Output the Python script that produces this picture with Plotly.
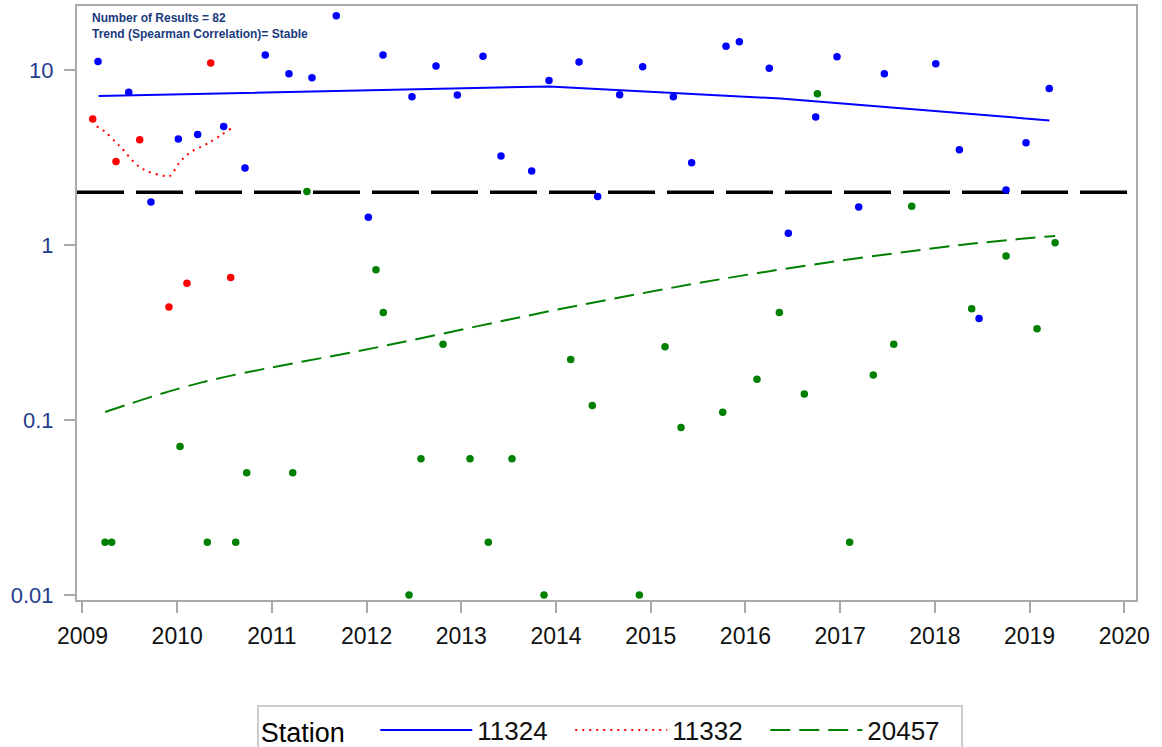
import plotly.graph_objects as go

# ---- data (decimal years, values) ----
blue_x = [2009.164, 2009.488, 2009.723, 2010.012, 2010.216, 2010.491, 2010.716, 2010.930,
          2011.180, 2011.423, 2011.680, 2012.018, 2012.173, 2012.479, 2012.733, 2012.958,
          2013.229, 2013.419, 2013.743, 2013.926, 2014.243, 2014.440, 2014.672, 2014.915,
          2015.239, 2015.432, 2015.795, 2015.936, 2016.252, 2016.453, 2016.742, 2016.967,
          2017.196, 2017.467, 2018.010, 2018.259, 2018.467, 2018.752, 2018.963, 2019.208]
blue_y = [11.2, 7.45, 1.76, 4.03, 4.28, 4.76, 2.75, 12.2,
          9.52, 9.03, 20.4, 1.44, 12.2, 7.03, 10.54, 7.19,
          12.0, 3.22, 2.65, 8.72, 11.1, 1.89, 7.22, 10.44,
          7.03, 2.95, 13.65, 14.5, 10.22, 1.167, 5.38, 11.9,
          1.65, 9.52, 10.87, 3.50, 0.38, 2.065, 3.84, 7.85]

red_x = [2009.108, 2009.354, 2009.604, 2009.913, 2010.103, 2010.354, 2010.565]
red_y = [5.24, 3.0, 3.99, 0.442, 0.604, 10.97, 0.653]

green_x = [2009.238, 2009.308, 2010.030, 2010.318, 2010.618, 2010.734, 2011.220, 2011.370,
           2012.099, 2012.176, 2012.448, 2012.574, 2012.807, 2013.092, 2013.285, 2013.535,
           2013.873, 2014.155, 2014.383, 2014.880, 2015.151, 2015.320, 2015.760, 2016.122,
           2016.358, 2016.622, 2016.760, 2017.100, 2017.350, 2017.566, 2017.756, 2018.389,
           2018.752, 2019.079, 2019.270]
green_y = [0.02, 0.02, 0.0705, 0.02, 0.02, 0.05, 0.05, 2.02,
           0.722, 0.412, 0.01, 0.06, 0.271, 0.06, 0.02, 0.06,
           0.01, 0.222, 0.121, 0.01, 0.262, 0.0905, 0.1107, 0.171,
           0.412, 0.141, 7.32, 0.02, 0.181, 0.271, 1.665, 0.432,
           0.865, 0.332, 1.03]

# trend (smoothed) lines
blue_trend_x = [2009.17, 2012.14, 2013.93, 2016.37, 2019.21]
blue_trend_y = [7.10, 7.71, 8.06, 6.87, 5.15]

red_trend_x = [2009.15, 2009.24, 2009.36, 2009.41, 2009.565, 2009.69, 2009.853, 2009.924,
               2010.02, 2010.128, 2010.339, 2010.568]
red_trend_y = [4.76, 4.43, 3.82, 3.60, 2.90, 2.63, 2.49, 2.48,
               2.94, 3.35, 3.85, 4.63]

green_trend_x = [2009.24, 2010.24, 2012.14, 2014.25, 2016.15, 2018.27, 2019.27]
green_trend_y = [0.111, 0.163, 0.262, 0.453, 0.694, 1.00, 1.126]

ref_level = 2.0
x_range = [2008.942, 2020.124]
year_ticks = list(range(2009, 2021))
y_tickvals = [0.01, 0.1, 1, 10]
y_ticktext = ["0.01", "0.1", "1", "10"]

BLUE = "#0000FF"
RED = "#FF0000"
GREEN = "#008000"
FONT = "Liberation Sans, Arial, sans-serif"

fig = go.Figure()

# reference line
fig.add_trace(go.Scatter(x=x_range, y=[ref_level, ref_level], mode="lines",
                         line=dict(color="black", width=3.5, dash="47px,12px"),
                         showlegend=False, hoverinfo="skip"))

# markers
fig.add_trace(go.Scatter(x=blue_x, y=blue_y, mode="markers",
                         marker=dict(color=BLUE, size=7.5), showlegend=False))
fig.add_trace(go.Scatter(x=red_x, y=red_y, mode="markers",
                         marker=dict(color=RED, size=7.5), showlegend=False))
fig.add_trace(go.Scatter(x=green_x, y=green_y, mode="markers",
                         marker=dict(color=GREEN, size=7.5), showlegend=False))

# trend lines (legend entries)
fig.add_trace(go.Scatter(x=blue_trend_x, y=blue_trend_y, mode="lines", name="11324",
                         line=dict(color=BLUE, width=2)))
fig.add_trace(go.Scatter(x=red_trend_x, y=red_trend_y, mode="lines", name="11332",
                         line=dict(color=RED, width=2, dash="2px,5px"), line_shape="spline"))
fig.add_trace(go.Scatter(x=green_trend_x, y=green_trend_y, mode="lines", name="20457",
                         line=dict(color=GREEN, width=2, dash="20px,9px"), line_shape="spline"))

fig.add_annotation(xref="paper", yref="paper", x=0.0125, y=0.995,
                   xanchor="left", yanchor="top", align="left", showarrow=False,
                   text="<b>Number of Results = 82</b><br><b>Trend (Spearman Correlation)= Stable</b>",
                   font=dict(family=FONT, size=12, color="#1a3a80"))

axis_col = "#a9a9a9"
fig.update_xaxes(range=x_range, tickvals=year_ticks, ticktext=[str(y) for y in year_ticks],
                 showgrid=False, zeroline=False, showline=True, linecolor=axis_col, linewidth=2,
                 mirror=True, ticks="outside", ticklen=11, tickwidth=2, tickcolor=axis_col,
                 ticklabelstandoff=3,
                 tickfont=dict(family=FONT, size=23, color="#111111"))
fig.update_yaxes(type="log", range=[-2.0286, 1.3657], tickvals=y_tickvals, ticktext=y_ticktext,
                 showgrid=False, zeroline=False, showline=True, linecolor=axis_col, linewidth=2,
                 mirror=True, ticks="outside", ticklen=11, tickwidth=2, tickcolor=axis_col,
                 ticklabelstandoff=6,
                 tickfont=dict(family=FONT, size=22, color="#1f3c8f"))

fig.update_layout(
    width=1162, height=747,
    margin=dict(l=77, r=26, t=6, b=147, autoexpand=False),
    paper_bgcolor="white", plot_bgcolor="white",
    font=dict(family=FONT),
    legend=dict(orientation="h", x=0.503, xanchor="center", y=-0.176, yanchor="top",
                title=dict(text="Station   ", side="left", font=dict(family=FONT, size=27, color="black")),
                font=dict(family=FONT, size=26, color="#111111"),
                bordercolor="#cccccc", borderwidth=2, bgcolor="white",
                itemwidth=92, entrywidth=88, tracegroupgap=0),
)

fig.write_html("out.html", config={"displayModeBar": False},
               post_script="document.body.style.margin='0';document.body.style.overflow='hidden';")
